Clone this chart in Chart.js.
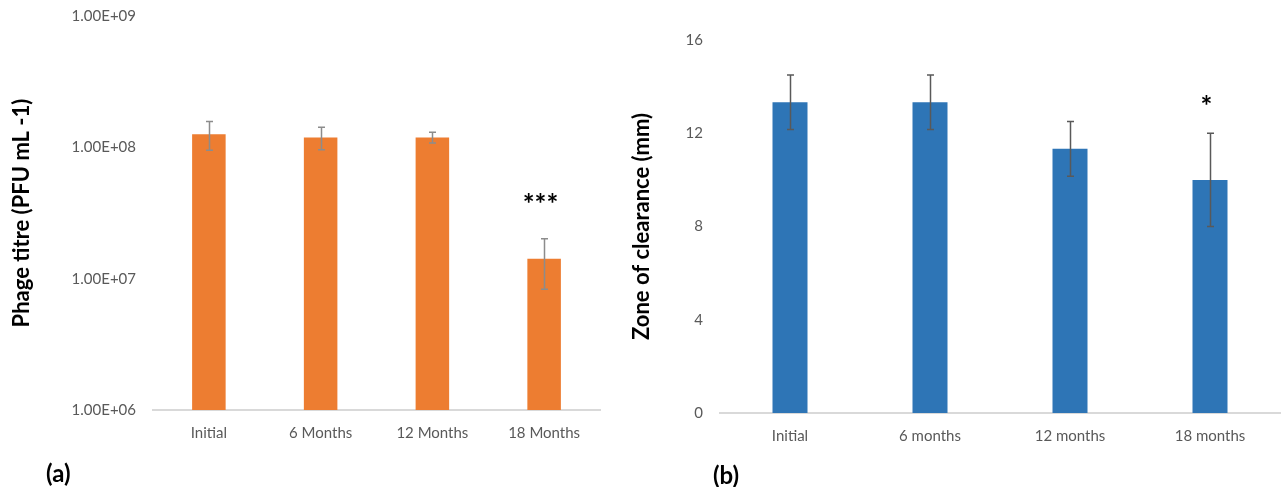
<!DOCTYPE html>
<html>
<head>
<meta charset="utf-8">
<script src="https://cdn.jsdelivr.net/npm/chart.js@4.4.0/dist/chart.umd.min.js"></script>
<style>
body { margin: 0; background: #fff; width: 1282px; height: 487px; overflow: hidden; position: relative; }
.box { position: absolute; top: 0; height: 487px; }
#wrapA { left: 0; width: 640px; }
#wrapB { left: 620px; width: 662px; }
.tag { position: absolute; font: bold 24px Lato, sans-serif; color: #000; }
</style>
</head>
<body>
<div class="box" id="wrapA"><canvas id="chartA"></canvas></div>
<div class="box" id="wrapB"><canvas id="chartB"></canvas></div>
<div class="tag" style="left:46px;top:458px">(a)</div>
<div class="tag" style="left:713px;top:460px">(b)</div>
<script>
// (a) phage titre
var titreLabels = ["Initial", "6 Months", "12 Months", "18 Months"];
var titreMeans = [1.26e8, 1.19e8, 1.19e8, 1.42e7];
var titreErrors = [0.31e8, 0.23e8, 0.11e8, 0.59e7];
var titreMarks = ["", "", "", "***"];
var titreTicks = [1e6, 1e7, 1e8, 1e9];

// (b) zone of clearance
var zoneLabels = ["Initial", "6 months", "12 months", "18 months"];
var zoneMeans = [13.33, 13.33, 11.33, 10.0];
var zoneErrors = [1.17, 1.17, 1.17, 2.0];
var zoneMarks = ["", "", "", "*"];
var zoneTicks = [0, 4, 8, 12, 16];

function fmtExp(v) {
  return v.toExponential(2).toUpperCase().replace(/E\+(\d)$/, "E+0$1");
}

// error bars + significance stars
var errorBars = {
  id: 'errorBars',
  afterDatasetsDraw: function(chart, args, opts) {
    var ctx = chart.ctx, meta = chart.getDatasetMeta(0), y = chart.scales.y;
    var data = chart.data.datasets[0].data;
    ctx.save();
    ctx.strokeStyle = opts.color;
    ctx.lineWidth = opts.width;
    opts.errors.forEach(function(err, i) {
      var x = Math.round(meta.data[i].x) + 0.5;
      var top = y.getPixelForValue(data[i] + err);
      var bot = y.getPixelForValue(data[i] - err);
      ctx.beginPath();
      ctx.moveTo(x, top); ctx.lineTo(x, bot);
      ctx.moveTo(x - opts.cap, top); ctx.lineTo(x + opts.cap, top);
      ctx.moveTo(x - opts.cap, bot); ctx.lineTo(x + opts.cap, bot);
      ctx.stroke();
      if (opts.marks[i]) {
        ctx.fillStyle = '#000';
        ctx.font = opts.markFont;
        ctx.textAlign = 'center';
        ctx.textBaseline = 'middle';
        ctx.fillText(opts.marks[i], x + opts.markDx, top - opts.markGap);
      }
    });
    ctx.restore();
  }
};

function makeChart(id, c) {
  return new Chart(document.getElementById(id), {
    type: 'bar',
    data: {
      labels: c.labels,
      datasets: [{ data: c.means, backgroundColor: c.color, barPercentage: c.barPct, categoryPercentage: 1 }]
    },
    options: {
      responsive: true,
      maintainAspectRatio: false,
      animation: false,
      layout: { padding: { left: c.padLeft, top: c.top, right: c.right, bottom: 0 } },
      plugins: {
        legend: { display: false },
        tooltip: { enabled: false },
        errorBars: {
          errors: c.errors, marks: c.marks, color: c.errColor, width: 1.5, cap: c.cap,
          markFont: 'bold 28px Lato, sans-serif', markGap: c.markGap, markDx: -4
        }
      },
      scales: {
        x: {
          grid: { display: false, drawTicks: false },
          border: { color: '#d9d9d9', width: 2 },
          ticks: { color: '#595959', font: { family: 'Lato', size: 15 }, padding: 14, maxRotation: 0 },
          afterFit: function(s) { s.height = c.xHeight; }
        },
        y: {
          type: c.yType,
          min: c.ticks[0],
          max: c.ticks[c.ticks.length - 1],
          grid: { display: false, drawTicks: false },
          border: { display: false },
          ticks: { color: '#595959', font: { family: 'Lato', size: 15 }, padding: 17, callback: c.fmt },
          afterBuildTicks: function(s) { s.ticks = c.ticks.map(function(v) { return { value: v }; }); },
          title: { display: true, text: c.title, color: '#000', font: { family: 'Lato', size: 22, weight: 'bold' }, padding: { top: 4, bottom: 0 } },
          afterFit: function(s) { s.width = c.yWidth; s.paddingTop = 0; }
        }
      }
    },
    plugins: [errorBars]
  });
}

makeChart('chartA', {
  labels: titreLabels, means: titreMeans, errors: titreErrors, marks: titreMarks, ticks: titreTicks,
  yType: 'logarithmic', fmt: function(v) { return fmtExp(v); },
  title: 'Phage titre (PFU mL -1)', color: '#ED7D31', errColor: '#8c8c8c', cap: 3.5,
  barPct: 0.3, padLeft: 5, yWidth: 148, right: 40, top: 16, xHeight: 77, markGap: 34
});

makeChart('chartB', {
  labels: zoneLabels, means: zoneMeans, errors: zoneErrors, marks: zoneMarks, ticks: zoneTicks,
  yType: 'linear', fmt: function(v) { return v; },
  title: 'Zone of clearance (mm)', color: '#2E75B6', errColor: '#595959', cap: 3.5,
  barPct: 0.25, padLeft: 5, yWidth: 95, right: 2, top: 40, xHeight: 74, markGap: 26
});
</script>
</body>
</html>
